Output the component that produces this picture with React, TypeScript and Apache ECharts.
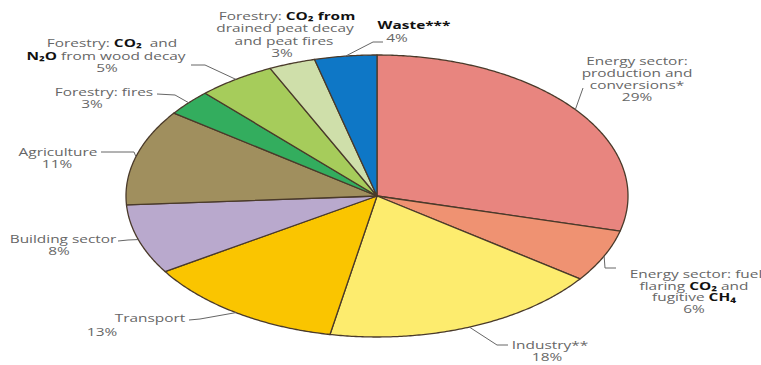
import React, { useEffect, useRef } from "react";
import * as echarts from "echarts";

// ---- data ----
const CATEGORIES = [
  "Energy sector: production and conversions*",
  "Energy sector: fuel flaring CO₂ and fugitive CH₄",
  "Industry**",
  "Transport",
  "Building sector",
  "Agriculture",
  "Forestry: fires",
  "Forestry: CO₂ and N₂O from wood decay",
  "Forestry: CO₂ from drained peat decay and peat fires",
  "Waste***",
];
const VALUES = [29, 6, 18, 13, 8, 11, 3, 5, 3, 4];
const LABEL_TEXT = [
  ["Energy sector:", "production and", "conversions*"],
  ["Energy sector: fuel", "flaring {b|CO₂} and", "fugitive {b|CH₄}"],
  ["Industry**"],
  ["Transport"],
  ["Building sector"],
  ["Agriculture"],
  ["Forestry: fires"],
  ["Forestry: {b|CO₂}  and", "{b|N₂O} from wood decay"],
  ["Forestry: {b|CO₂ from}", "drained peat decay", "and peat fires"],
  ["{b|Waste***}"],
];

// ---- styles / layout ----
const COLORS = [
  "#E8857F", "#EF9272", "#FDEC6E", "#FAC500", "#B9A9CD",
  "#A08F5E", "#33AD5E", "#A6CC5B", "#CFDFAA", "#0E77C6",
];
const CX = 377, CY = 196, RX = 251, RY = 141;
const LAYOUT: { lines: number[][]; leader: number[][] }[] = [
  { lines: [[637, 61], [637, 73], [637, 85], [637, 97]], leader: [[583, 88]] },
  { lines: [[696, 274], [694, 286], [694, 297], [694, 309]], leader: [[605, 268], [616, 268]] },
  { lines: [[550, 345], [547, 357]], leader: [[497, 345], [508, 345]] },
  { lines: [[150, 318], [102, 332]], leader: [[200, 319], [189, 320]] },
  { lines: [[63, 239], [59, 251]], leader: [[128, 240], [118, 241]] },
  { lines: [[58, 152], [57, 164]], leader: [[134, 152], [101, 152]] },
  { lines: [[104, 92], [92, 104]], leader: [[175, 95], [157, 94]] },
  { lines: [[112, 43], [106, 56], [107, 68]], leader: [[205, 65], [191, 65]] },
  { lines: [[287, 16], [285, 28], [284, 41], [282, 53]], leader: [] },
  { lines: [[414, 25], [397, 38]], leader: [[373, 42], [383, 42]] },
];
const FONT = "'Open Sans', 'DejaVu Sans', sans-serif";
const TEXT_SCALE = 1.4;

export default function App() {
  const ref = useRef<HTMLDivElement>(null);
  useEffect(() => {
    if (!ref.current) return;
    const chart = echarts.init(ref.current, null, { renderer: "svg" });
    const total = VALUES.reduce((a, b) => a + b, 0);
    chart.setOption({
      animation: false,
      backgroundColor: "#ffffff",
      series: [
        {
          type: "custom",
          coordinateSystem: "none",
          data: VALUES.map((v, i) => ({ name: CATEGORIES[i], value: [v] })),
          renderItem: (params: any, api: any) => {
            const i = params.dataIndex;
            const v = api.value(0) as number;
            let cum = 0;
            for (let j = 0; j < i; j++) cum += VALUES[j];
            const a0 = (cum / total) * Math.PI * 2;
            const a1 = ((cum + v) / total) * Math.PI * 2;
            const steps = Math.max(2, Math.ceil((a1 - a0) / (Math.PI / 360)));
            const pts: number[][] = [[CX, CY]];
            for (let k = 0; k <= steps; k++) {
              const a = a0 + ((a1 - a0) * k) / steps;
              pts.push([CX + RX * Math.sin(a), CY - RY * Math.cos(a)]);
            }
            const am = (a0 + a1) / 2;
            const edge = [CX + RX * Math.sin(am), CY - RY * Math.cos(am)];
            const lay = LAYOUT[i];
            const children: any[] = [
              {
                type: "polygon",
                shape: { points: pts },
                style: { fill: COLORS[i], stroke: "#4a3a2a", lineWidth: 1.3, lineJoin: "round" },
              },
            ];
            if (lay.leader.length) {
              children.push({
                type: "polyline",
                shape: { points: [edge, ...lay.leader] },
                style: { fill: null, stroke: "#666666", lineWidth: 1 },
                z2: 5,
              });
            }
            const lines = [...LABEL_TEXT[i], `${v}%`];
            lines.forEach((t, li) => {
              const p = lay.lines[li];
              children.push({
                type: "text",
                x: p[0],
                y: p[1],
                scaleX: TEXT_SCALE,
                z2: 10,
                style: {
                  text: t,
                  fill: "#666666",
                  fontSize: 11,
                  fontFamily: FONT,
                  align: "center",
                  verticalAlign: "middle",
                  rich: {
                    b: { fontWeight: "bold", fill: "#111111", fontSize: 11, fontFamily: FONT },
                  },
                },
              });
            });
            return { type: "group", children };
          },
        },
      ],
    });
    return () => chart.dispose();
  }, []);
  return (
    <div
      ref={ref}
      style={{ position: "fixed", left: 0, top: 0, width: 761, height: 365, background: "#fff" }}
    />
  );
}
